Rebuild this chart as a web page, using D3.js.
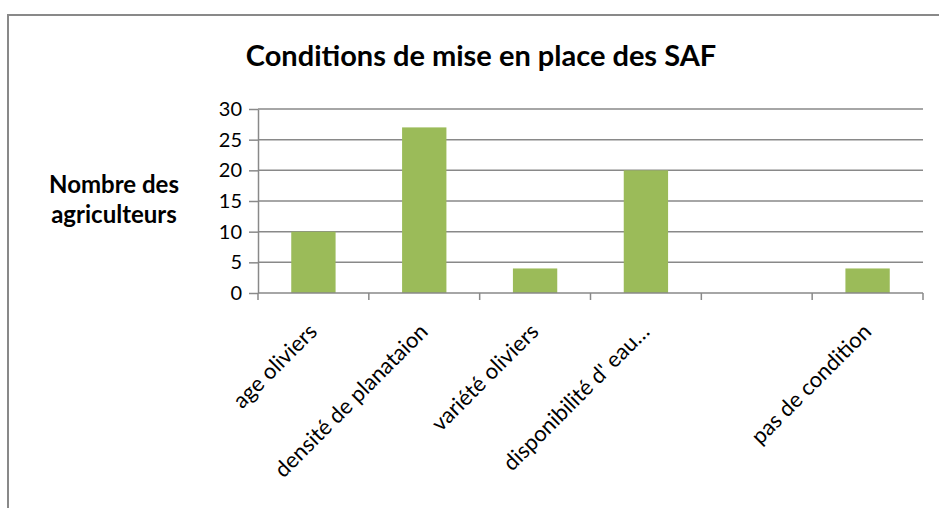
<!DOCTYPE html>
<html>
<head>
<meta charset="utf-8">
<script src="https://cdn.jsdelivr.net/npm/d3@7"></script>
<style>
  body { margin: 0; background: #fff; }
  svg { display: block; font-family: Lato, "Open Sans", sans-serif; }
</style>
</head>
<body>
<div id="chart"></div>
<script>
// data
const categories = ['age oliviers', 'densité de planataion', 'variété oliviers', "disponibilité d' eau…", '', 'pas de condition'];
const values = [10, 27, 4, 20, 0, 4];
const yTicks = [0, 5, 10, 15, 20, 25, 30];
const title = 'Conditions de mise en place des SAF';
const yTitle = ['Nombre des', 'agriculteurs'];

const width = 939;
const height = 508;
const plot = { left: 258, right: 923, top: 109, bottom: 293 };
const grey = '#898989';

const svg = d3.select('#chart')
  .append('svg')
  .attr('width', width)
  .attr('height', height);

// chart frame, runs off the right and bottom edges
svg.append('rect')
  .attr('x', 8)
  .attr('y', 15)
  .attr('width', 1000)
  .attr('height', 600)
  .attr('fill', 'none')
  .attr('stroke', grey)
  .attr('stroke-width', 2);

const x = d3.scaleBand()
  .domain(d3.range(categories.length))
  .range([plot.left, plot.right])
  .paddingInner(0.6)
  .paddingOuter(0.3);

const y = d3.scaleLinear()
  .domain([0, 30])
  .range([plot.bottom, plot.top]);

// gridlines
svg.append('g')
  .selectAll('line')
  .data(yTicks.filter((d) => d > 0))
  .enter()
  .append('line')
  .attr('x1', plot.left)
  .attr('x2', plot.right)
  .attr('y1', (d) => y(d))
  .attr('y2', (d) => y(d))
  .attr('stroke', grey)
  .attr('stroke-width', 1.5);

// bars
svg.append('g')
  .selectAll('rect')
  .data(values)
  .enter()
  .append('rect')
  .attr('x', (d, i) => x(i))
  .attr('y', (d) => y(d))
  .attr('width', x.bandwidth())
  .attr('height', (d) => y(0) - y(d))
  .attr('fill', '#9bbb59');

// y axis
const yAxis = svg.append('g')
  .attr('transform', `translate(${plot.left},0)`)
  .call(d3.axisLeft(y).tickValues(yTicks).tickSize(9).tickPadding(7).tickSizeOuter(0));
yAxis.select('.domain').attr('stroke', grey).attr('stroke-width', 1.5);
yAxis.selectAll('.tick line').attr('stroke', grey).attr('stroke-width', 1.5);
yAxis.selectAll('.tick text')
  .attr('fill', '#000')
  .style('font-family', 'Lato, sans-serif')
  .style('font-size', '20px');

// x axis, ticks on category boundaries
const step = x.step();
const bounds = d3.range(categories.length + 1).map((i) => plot.left + i * step);
svg.append('line')
  .attr('x1', plot.left)
  .attr('x2', plot.right)
  .attr('y1', plot.bottom)
  .attr('y2', plot.bottom)
  .attr('stroke', grey)
  .attr('stroke-width', 1.5);
svg.append('g')
  .selectAll('line')
  .data(bounds)
  .enter()
  .append('line')
  .attr('x1', (d) => d)
  .attr('x2', (d) => d)
  .attr('y1', plot.bottom)
  .attr('y2', plot.bottom + 7)
  .attr('stroke', grey)
  .attr('stroke-width', 1.5);

// rotated category labels
svg.append('g')
  .selectAll('text')
  .data(categories)
  .enter()
  .append('text')
  .attr('text-anchor', 'end')
  .attr('transform', (d, i) => `translate(${x(i) + x.bandwidth() / 2 + 5},${plot.bottom + 40}) rotate(-45)`)
  .style('font-size', '22px')
  .attr('fill', '#000')
  .text((d) => d);

// title
svg.append('text')
  .attr('x', 481)
  .attr('y', 66)
  .attr('text-anchor', 'middle')
  .style('font-size', '29px')
  .style('font-weight', 'bold')
  .text(title);

// y title
svg.append('text')
  .attr('text-anchor', 'middle')
  .style('font-size', '24px')
  .style('font-weight', 'bold')
  .selectAll('tspan')
  .data(yTitle)
  .enter()
  .append('tspan')
  .attr('x', 114)
  .attr('y', (d, i) => 193 + i * 30)
  .text((d) => d);
</script>
</body>
</html>
